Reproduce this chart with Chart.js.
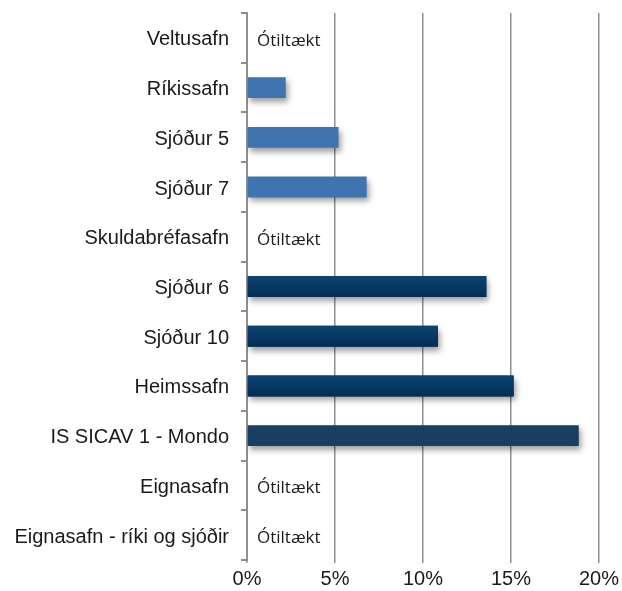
<!DOCTYPE html>
<html>
<head>
<meta charset="utf-8">
<script src="https://cdn.jsdelivr.net/npm/chart.js@4/dist/chart.umd.min.js"></script>
<style>
  html, body { margin: 0; padding: 0; background: #fff; }
  #wrap { width: 622px; height: 591px; }
</style>
</head>
<body>
<div id="wrap"><canvas id="grafica" width="622" height="591"></canvas></div>
<script>
const sjodir = ["Veltusafn", "Ríkissafn", "Sjóður 5", "Sjóður 7", "Skuldabréfasafn", "Sjóður 6",
  "Sjóður 10", "Heimssafn", "IS SICAV 1 - Mondo", "Eignasafn", "Eignasafn - ríki og sjóðir"];
// ávöxtun í %, null = ótiltækt
const avoxtun = [null, 2.2, 5.2, 6.8, null, 13.6, 10.85, 15.15, 18.85, null, null];
const litir = ['#3E74B0', '#3E74B0', '#3E74B0', '#3E74B0', '#073A66', '#073A66',
  '#073A66', '#073A66', '#183F60', '#073A66', '#073A66'];
// dökku súlurnar eru með litastiga
const stigi = [false, false, false, false, true, true, true, true, false, true, true];
const xTicks = [0, 5, 10, 15, 20];
const otiltaekt = "Ótiltækt";

const skuggi = {
  id: 'skuggi',
  beforeDatasetsDraw(chart) {
    const c = chart.ctx;
    c.save();
    c.shadowColor = 'rgba(0,0,0,0.38)';
    c.shadowBlur = 6;
    c.shadowOffsetX = 2;
    c.shadowOffsetY = 4;
  },
  afterDatasetsDraw(chart) {
    const c = chart.ctx;
    c.restore();
    // litastigi ofan a dokku sulurnar
    const meta = chart.getDatasetMeta(0);
    meta.data.forEach((bar, i) => {
      if (!stigi[i] || avoxtun[i] === null) return;
      const p = bar.getProps(['x', 'y', 'base', 'height'], true);
      const top = p.y - p.height / 2;
      const g = c.createLinearGradient(0, top, 0, top + p.height);
      g.addColorStop(0, '#0B4474');
      g.addColorStop(1, '#032D51');
      c.save();
      c.fillStyle = g;
      c.fillRect(p.base, top, p.x - p.base, p.height);
      c.restore();
    });
  }
};

const merki = {
  id: 'merki',
  afterDraw(chart) {
    const c = chart.ctx;
    const x = chart.scales.x, y = chart.scales.y;
    c.save();
    c.font = '17px "Open Sans", "DejaVu Sans", sans-serif';
    c.fillStyle = '#1a1a1a';
    c.textBaseline = 'middle';
    avoxtun.forEach((v, i) => {
      if (v === null) {
        c.fillText(otiltaekt, x.getPixelForValue(0) + 10, y.getPixelForValue(i) + 3);
      }
    });
    c.restore();
  }
};

const context = document.getElementById('grafica').getContext('2d');
window.myChart = new Chart(context, {
  type: 'bar',
  data: {
    labels: sjodir,
    datasets: [{
      data: avoxtun,
      backgroundColor: litir,
      borderWidth: 0,
      categoryPercentage: 1,
      barPercentage: 0.42
    }]
  },
  options: {
    indexAxis: 'y',
    responsive: false,
    animation: false,
    layout: { padding: { top: 13, right: 23, left: 0, bottom: 0 } },
    plugins: { legend: { display: false }, tooltip: { enabled: false } },
    scales: {
      x: {
        min: 0, max: 20,
        afterBuildTicks: s => { s.ticks = xTicks.map(v => ({ value: v })); },
        afterFit: s => { s.height = 31; s.paddingLeft = 0; s.paddingRight = 0; },
        border: { display: false },
        grid: { color: '#8f8f8f', lineWidth: 1.5, tickLength: 3 },
        ticks: {
          padding: 4,
          color: '#1a1a1a',
          font: { family: '"Liberation Sans", Arial, sans-serif', size: 20 },
          callback: v => v + '%'
        }
      },
      y: {
        afterFit: s => { s.width = 247; s.paddingTop = 0; s.paddingBottom = 0; },
        border: { display: true, color: '#8f8f8f', width: 2 },
        grid: { offset: true, drawOnChartArea: false, color: '#8f8f8f', lineWidth: 2, tickLength: 6 },
        ticks: {
          padding: 12,
          labelOffset: 2,
          color: '#1a1a1a',
          font: { family: '"Liberation Sans", Arial, sans-serif', size: 20 }
        }
      }
    }
  },
  plugins: [skuggi, merki]
});
</script>
</body>
</html>
